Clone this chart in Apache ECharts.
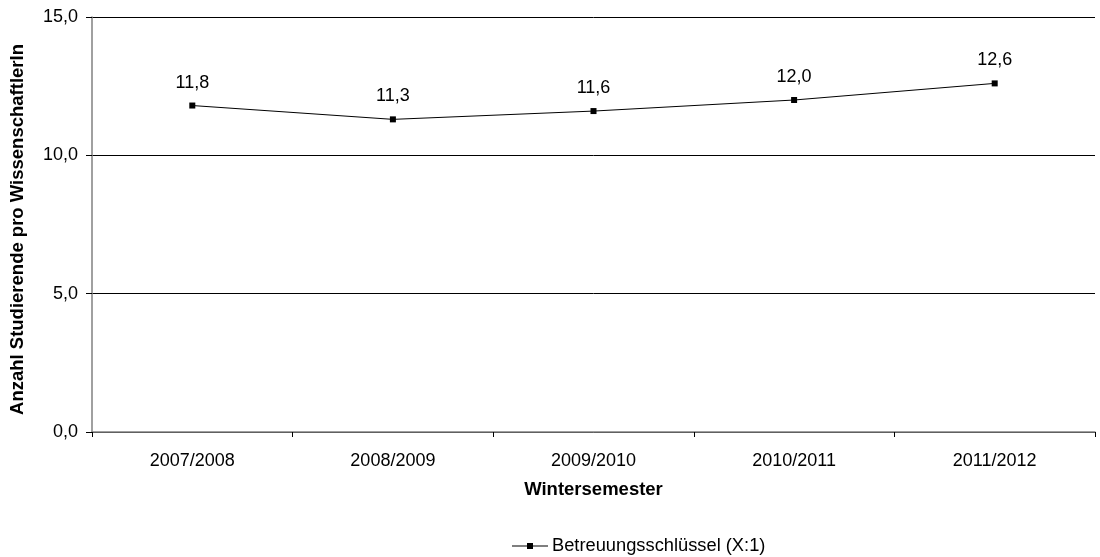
<!DOCTYPE html>
<html><head><meta charset="utf-8">
<script src="https://cdn.jsdelivr.net/npm/echarts@6/dist/echarts.min.js"></script>
<style>html,body{margin:0;padding:0;background:#fff}#c{width:1100px;height:557px}</style>
</head><body><div id="c"></div>
<script>
const categories = ['2007/2008','2008/2009','2009/2010','2010/2011','2011/2012'];
const values = [11.8, 11.3, 11.6, 12.0, 12.6];
const seriesName = 'Betreuungsschlüssel (X:1)';
const fmt = v => v.toFixed(1).replace('.', ',');
const chart = echarts.init(document.getElementById('c'));
const font = 'Liberation Sans, Arial, sans-serif';
chart.setOption({
  animation: false,
  textStyle: {fontFamily: font},
  grid: {left: 91, right: 5, top: 17, bottom: 125, containLabel: false},
  legend: {
    top: 532, left: 507, itemWidth: 36, itemHeight: 6,
    icon: 'path://M0,2.5 L15,2.5 L15,0 L21,0 L21,2.5 L36,2.5 L36,3.5 L21,3.5 L21,6 L15,6 L15,3.5 L0,3.5 Z',
    itemGap: 2,
    textStyle: {fontFamily: font, fontSize: 18.3, color: '#000', padding: [0,0,0,-1]},
    data: [seriesName]
  },
  xAxis: {
    type: 'category', data: categories, boundaryGap: true,
    name: 'Wintersemester', nameLocation: 'middle', nameGap: 48,
    nameTextStyle: {fontFamily: font, fontSize: 18.5, fontWeight: 'bold', color: '#000'},
    axisLine: {lineStyle: {color: '#808080', width: 1.5}},
    axisTick: {show: true, length: 5, lineStyle: {color: '#000'}},
    axisLabel: {color: '#000', fontSize: 18, margin: 20, fontFamily: font},
    splitLine: {show: false}
  },
  yAxis: {
    type: 'value', min: 0, max: 15, interval: 5,
    name: 'Anzahl Studierende pro WissenschaftlerIn', nameLocation: 'middle', nameGap: 65,
    nameTextStyle: {fontFamily: font, fontSize: 18.5, fontWeight: 'bold', color: '#000', padding: [0, 10, 0, 0]},
    axisLine: {show: true, lineStyle: {color: '#808080', width: 1.5}},
    axisTick: {show: true, length: 6, lineStyle: {color: '#000'}},
    axisLabel: {color: '#000', fontSize: 18, margin: 14, formatter: fmt, fontFamily: font},
    splitLine: {show: true, lineStyle: {color: '#000', width: 1}}
  },
  series: [{
    name: seriesName, type: 'line', data: values,
    symbol: 'rect', symbolSize: 6,
    itemStyle: {color: '#000'},
    lineStyle: {color: '#000', width: 1},
    label: {show: true, position: 'top', distance: 11, color: '#000', fontSize: 18, fontFamily: font, formatter: p => fmt(p.value)}
  }]
});
</script></body></html>
